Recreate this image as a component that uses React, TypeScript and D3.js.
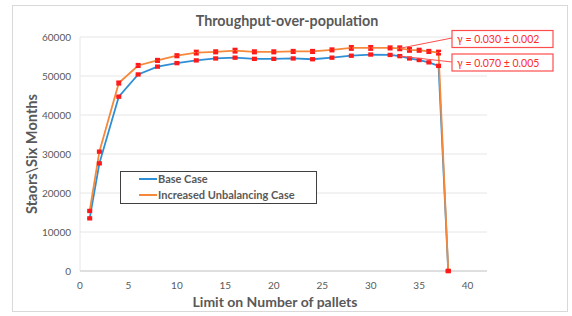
import * as d3 from 'd3'

const width = 572
const height = 316

const pallets = [1, 2, 4, 6, 8, 10, 12, 14, 16, 18, 20, 22, 24, 26, 28, 30, 32, 33, 34, 35, 36, 37, 38]
const baseCase = [13500, 27600, 44700, 50400, 52400, 53300, 54000, 54500, 54700, 54400, 54400, 54500, 54300, 54700, 55200, 55500, 55400, 55100, 54500, 54100, 53500, 52600, 0]
const unbalancedCase = [15400, 30600, 48200, 52700, 54000, 55200, 56000, 56200, 56500, 56200, 56200, 56300, 56300, 56700, 57200, 57200, 57200, 57100, 56700, 56600, 56300, 56000, 0]
const baseErr = [300, 300, 300, 300, 300, 300, 300, 300, 300, 300, 300, 300, 300, 300, 300, 300, 300, 300, 300, 300, 300, 300, 300]
const unbalancedErr = [300, 300, 400, 400, 400, 400, 500, 400, 500, 400, 400, 400, 400, 400, 500, 500, 400, 500, 500, 400, 400, 500, 300]

const yTicks = [0, 10000, 20000, 30000, 40000, 50000, 60000]
const xTicks = [0, 5, 10, 15, 20, 25, 30, 35, 40]

const seriesNames = ['Base Case', 'Increased Unbalancing Case']
const seriesColors = ['#2e8fd6', '#f5883a']
const labels = ['γ = 0.030 ± 0.002', 'γ = 0.070 ± 0.005']

const margin = { left: 80, right: 85, top: 37, bottom: 45 }
const font = 'Lato, "Open Sans", sans-serif'
const grey = '#595959'

function App() {
  const x = d3.scaleLinear().domain([0, 42]).range([margin.left, width - margin.right])
  const y = d3.scaleLinear().domain([0, 60000]).range([height - margin.bottom, margin.top])

  const line = d3.line<number>()
    .x((_, i) => x(pallets[i]))
    .y(d => y(d))

  const series = [
    { values: baseCase, err: baseErr },
    { values: unbalancedCase, err: unbalancedErr },
  ]

  // annotation anchors at pallet 33
  const idx = pallets.indexOf(33)
  const anchors = [
    [x(33), y(unbalancedCase[idx])],
    [x(33), y(baseCase[idx])],
  ]

  return (
    <svg width={width} height={height} style={{ position: 'absolute', left: 0, top: 0 }}>
      <rect x={12.5} y={5.5} width={555} height={306} fill="#fff" stroke="#d9d9d9" />
      <text x={287} y={26} textAnchor="middle" fontFamily={font} fontWeight="bold" fontSize={14.3} fill={grey}>
        Throughput-over-population
      </text>

      {yTicks.map(t => (
        <g key={t}>
          <line x1={x(0)} x2={x(42)} y1={y(t)} y2={y(t)} stroke={t === 0 ? '#bfbfbf' : '#e6e6e6'} />
          <text x={71} y={y(t) + 3.5} textAnchor="end" fontFamily={font} fontSize={10} fill={grey}>{t}</text>
        </g>
      ))}
      <line x1={x(0)} x2={x(0)} y1={y(0)} y2={y(60000)} stroke="#e6e6e6" />
      {xTicks.map(t => (
        <text key={t} x={x(t)} y={289} textAnchor="middle" fontFamily={font} fontSize={10} fill={grey}>{t}</text>
      ))}

      <text x={275} y={307} textAnchor="middle" fontFamily={font} fontWeight="bold" fontSize={14} fill={grey}>
        Limit on Number of pallets
      </text>
      <text transform={`translate(37, 154) rotate(-90)`} textAnchor="middle" fontFamily={font} fontWeight="bold" fontSize={14.6} fill={grey}>
        Staors\Six Months
      </text>

      {series.map((s, si) => (
        <path key={si} d={line(s.values) || ''} fill="none" stroke={seriesColors[si]} strokeWidth={1.8} />
      ))}

      {series.map((s, si) => (
        <g key={si}>
          {s.values.map((v, i) => (
            <g key={i}>
              <line x1={x(pallets[i])} x2={x(pallets[i])} y1={y(v + s.err[i])} y2={y(v - s.err[i])} stroke="#ff1a1a" strokeWidth={1.5} />
              <rect x={x(pallets[i]) - 2.5} y={y(v + s.err[i]) - 1} width={5} height={2.5} fill="#ff1a1a" />
              <rect x={x(pallets[i]) - 2.5} y={y(v - s.err[i]) - 1.5} width={5} height={2.5} fill="#ff1a1a" />
            </g>
          ))}
        </g>
      ))}

      {labels.map((l, i) => (
        <g key={l}>
          <line x1={452} y1={38 + i * 24} x2={anchors[i][0]} y2={anchors[i][1]} stroke="#ff4d4d" strokeWidth={1} />
          <rect x={452} y={30.5 + i * 23.5} width={101} height={17} fill="#fff" stroke="#ff4d4d" strokeWidth={1.2} />
          <text x={457} y={43 + i * 23.5} fontFamily={font} fontSize={10.5} fill="#ff2a2a">{l}</text>
        </g>
      ))}

      <rect x={120.5} y={171.5} width={196} height={32} fill="#fff" stroke="#404040" strokeWidth={1} />
      {seriesNames.map((n, i) => (
        <g key={n}>
          <line x1={139} x2={157} y1={179 + i * 16} y2={179 + i * 16} stroke={seriesColors[i]} strokeWidth={2} />
          <text x={158} y={183 + i * 16} fontFamily={font} fontWeight="bold" fontSize={11} fill={grey}>{n}</text>
        </g>
      ))}
    </svg>
  )
}

export default App
